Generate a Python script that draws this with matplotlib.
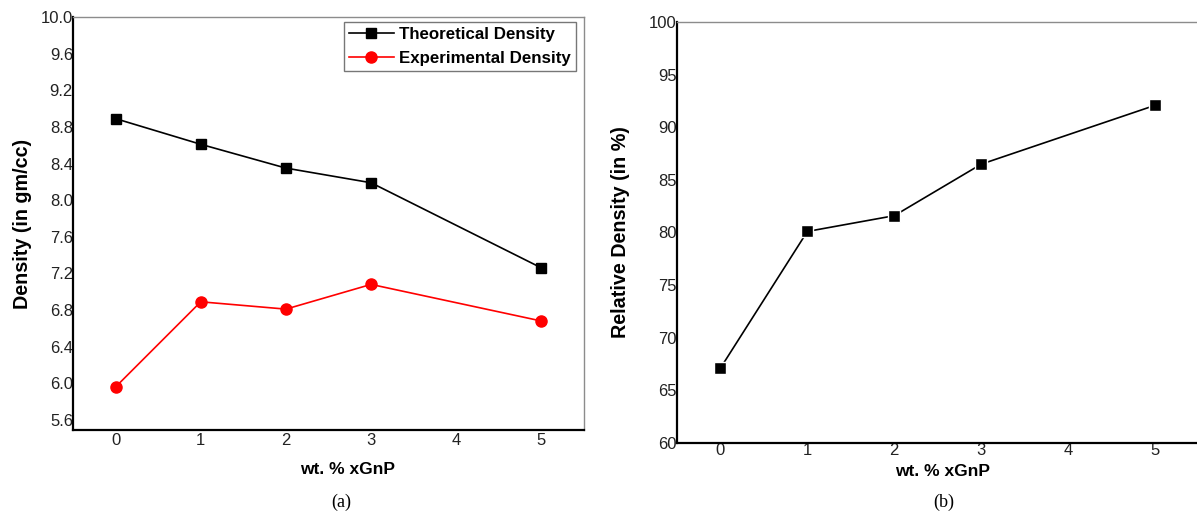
import matplotlib
matplotlib.use("Agg")
import matplotlib.pyplot as plt

# Data
xgnp_wt = [0, 1, 2, 3, 5]
theoretical_density = [8.89, 8.61, 8.35, 8.19, 7.26]
experimental_density = [5.96, 6.89, 6.81, 7.08, 6.68]
relative_density = [67.1, 80.1, 81.6, 86.5, 92.1]

x_ticks = [0, 1, 2, 3, 4, 5]
density_ticks = [5.6, 6.0, 6.4, 6.8, 7.2, 7.6, 8.0, 8.4, 8.8, 9.2, 9.6, 10.0]
relative_ticks = [60, 65, 70, 75, 80, 85, 90, 95, 100]

plt.rcParams["font.family"] = ["Liberation Sans", "DejaVu Sans"]

W, H = 1197, 516
fig = plt.figure(figsize=(W / 100, H / 100), dpi=100)


def px_axes(left, top, right, bottom):
    return fig.add_axes([left / W, 1 - bottom / H, (right - left) / W, (bottom - top) / H])


def style_axes(ax):
    for side in ("left", "bottom"):
        ax.spines[side].set_color("black")
        ax.spines[side].set_linewidth(1.6)
    for side in ("top", "right"):
        ax.spines[side].set_color("#8c8c8c")
        ax.spines[side].set_linewidth(1.0)
    ax.tick_params(axis="both", length=0, labelsize=12, colors="#222222")
    ax.tick_params(axis="y", pad=0)
    ax.tick_params(axis="x", pad=2)


# (a) density panel
ax1 = px_axes(73, 17, 584, 430)
ax1.plot(xgnp_wt, theoretical_density, color="black", lw=1.2, marker="s",
         ms=7, label="Theoretical Density")
ax1.plot(xgnp_wt, experimental_density, color="red", lw=1.2, marker="o",
         ms=8, label="Experimental Density")
ax1.set_xlim(-0.5, 5.5)
ax1.set_ylim(5.49, 10.0)
ax1.set_xticks(x_ticks)
ax1.set_yticks(density_ticks)
ax1.set_yticklabels([f"{v:.1f}" for v in density_ticks])
style_axes(ax1)
ax1.set_ylabel("Density (in gm/cc)", fontsize=14.2, fontweight="bold", labelpad=6)
leg = ax1.legend(loc="upper right", bbox_to_anchor=(0.984, 0.988), fancybox=False,
                 edgecolor="#777777", framealpha=1, borderpad=0.3,
                 handlelength=2.65, handletextpad=0.3, labelspacing=0.55,
                 borderaxespad=0.0, prop={"weight": "bold", "size": 12.2})
leg.get_frame().set_linewidth(1.0)
fig.text(348 / W, 1 - 470 / H, "wt. % xGnP", ha="center", va="center",
         fontsize=12.5, fontweight="bold")
fig.text(341 / W, 1 - 502 / H, "(a)", ha="center", va="center",
         fontsize=13, family="Liberation Serif")

# (b) relative density panel
ax2 = px_axes(677, 22.3, 1198.5, 442.7)
ax2.plot(xgnp_wt, relative_density, color="black", lw=1.2, marker="s",
         ms=8, markeredgecolor="white", markeredgewidth=1.0)
ax2.set_xlim(-0.5, 5.5)
ax2.set_ylim(60, 100)
ax2.set_xticks(x_ticks)
ax2.set_yticks(relative_ticks)
style_axes(ax2)
ax2.tick_params(axis="x", pad=0)
ax2.set_ylabel("Relative Density (in %)", fontsize=14.2, fontweight="bold", labelpad=14)
fig.text(943 / W, 1 - 471 / H, "wt. % xGnP", ha="center", va="center",
         fontsize=12.5, fontweight="bold")
fig.text(944 / W, 1 - 502 / H, "(b)", ha="center", va="center",
         fontsize=13, family="Liberation Serif")

fig.savefig("out.png", dpi=100)
